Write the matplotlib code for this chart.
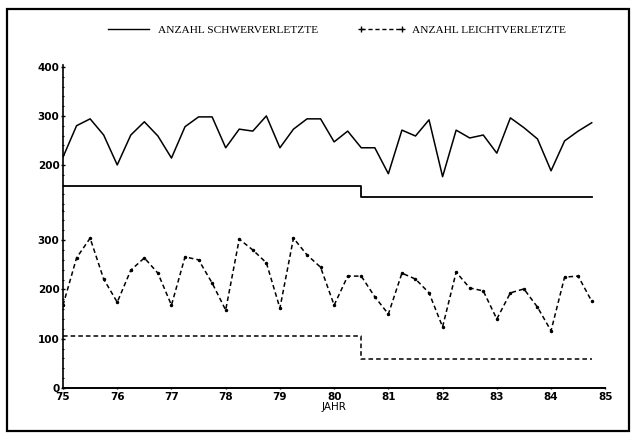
import numpy as np
import matplotlib.pyplot as plt
from matplotlib.patches import Rectangle
from matplotlib.lines import Line2D
from matplotlib.ticker import MultipleLocator

# quarterly values 1975 - 1984
jahr = np.arange(40) / 4.0 + 75

schwer = [216, 280, 294, 261, 200, 261, 288, 259, 214, 278,
          298, 298, 235, 273, 269, 300, 235, 273, 294, 294,
          247, 269, 235, 235, 182, 271, 259, 292, 176, 271,
          255, 261, 224, 296, 276, 253, 188, 249, 269, 286]

leicht = [168, 264, 304, 221, 174, 239, 264, 233, 168, 266,
          260, 213, 158, 302, 280, 254, 162, 304, 270, 245,
          168, 227, 227, 185, 150, 233, 221, 193, 124, 235,
          203, 197, 140, 193, 201, 164, 116, 225, 227, 176]

# period means (before / after mid 1980)
stufe_x = [75, 80.5, 84.75]
schwer_mittel = [157, 135]
leicht_mittel = [105, 59]

legend_labels = ['ANZAHL SCHWERVERLETZTE', 'ANZAHL LEICHTVERLETZTE']
x_ticks = list(range(75, 86))

fig = plt.figure(figsize=(6.32, 4.33), dpi=100)

# frame around the page
fig.patches.append(Rectangle((0.011, 0.005), 0.984, 0.975, transform=fig.transFigure,
                             fill=False, edgecolor='black', linewidth=1.6))

ax_lo = fig.add_axes([0.0997, 0.1039, 0.858, 0.411])
ax_hi = fig.add_axes([0.0997, 0.515, 0.858, 0.335], sharex=ax_lo)

def step_values(vals):
    return [vals[0], vals[1], vals[1]]

ax_hi.plot(jahr, schwer, color='black', linewidth=1.1)
ax_hi.step(stufe_x, step_values(schwer_mittel), where='post', color='black', linewidth=1.3)

ax_lo.plot(jahr, leicht, color='black', linewidth=1.1, linestyle=(0, (3, 2)),
           marker='.', markersize=3)
ax_lo.step(stufe_x, step_values(leicht_mittel), where='post', color='black',
           linewidth=1.1, linestyle=(0, (3, 2)))

ax_hi.set_ylim(108, 404)
ax_lo.set_ylim(0, 361)
ax_lo.set_xlim(75, 85)

tick_font = dict(fontsize=7.5, fontweight='bold', family='DejaVu Sans')

for ax in (ax_hi, ax_lo):
    ax.spines['top'].set_visible(False)
    ax.spines['right'].set_visible(False)
    ax.spines['left'].set_linewidth(1.2)
    ax.yaxis.set_minor_locator(MultipleLocator(20))
    ax.tick_params(axis='y', which='major', length=3, width=1, pad=1, direction='inout')
    ax.tick_params(axis='y', which='minor', length=2, width=0.8, direction='inout')

ax_hi.spines['bottom'].set_visible(False)
ax_hi.tick_params(axis='x', which='both', bottom=False, labelbottom=False)

ax_hi.set_yticks([200, 300, 400])
ax_hi.set_yticklabels(['200', '300', '400'], **tick_font)
ax_lo.set_yticks([0, 100, 200, 300])
ax_lo.set_yticklabels(['0', '100', '200', '300'], **tick_font)

ax_lo.spines['bottom'].set_linewidth(1.4)
ax_lo.set_xticks(x_ticks)
ax_lo.set_xticklabels([str(t) for t in x_ticks], **tick_font)
ax_lo.tick_params(axis='x', length=2, width=1, pad=2, direction='inout')
ax_lo.set_xlabel('JAHR', fontsize=7.5, family='DejaVu Sans', labelpad=0)

handles = [Line2D([], [], color='black', linewidth=1.0),
           Line2D([], [], color='black', linewidth=1.0, linestyle=(0, (3, 2)),
                  marker='+', markersize=4)]
fig.legend(handles, legend_labels, loc='center', bbox_to_anchor=(0.53, 0.93), ncol=2,
           frameon=False, prop={'family': 'Liberation Serif', 'size': 8.2},
           handlelength=4.2, columnspacing=3.5, handletextpad=0.5, numpoints=2)

fig.savefig('out.png', dpi=100)
